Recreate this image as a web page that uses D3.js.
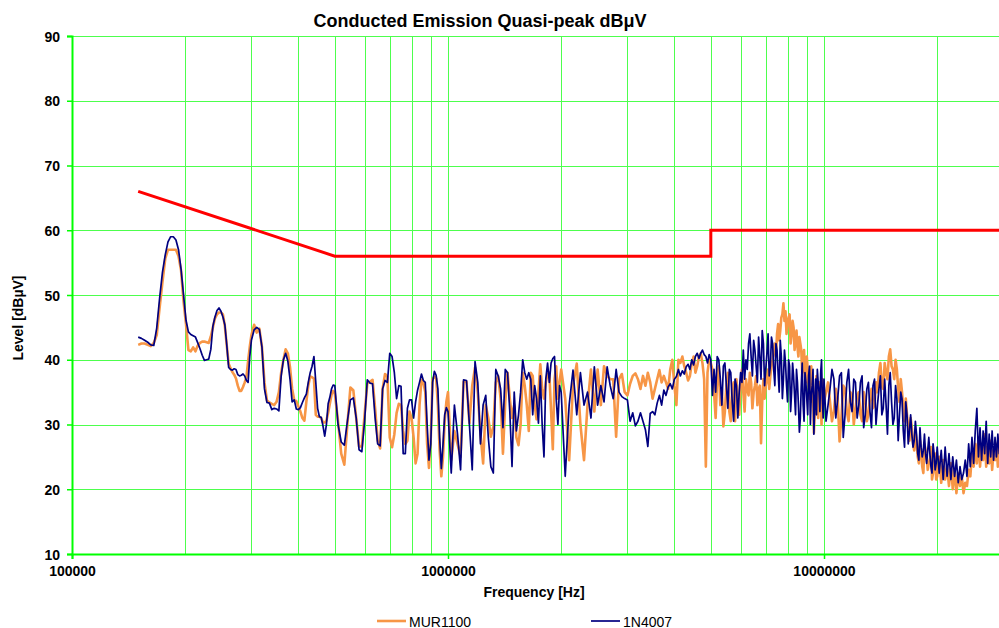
<!DOCTYPE html>
<html><head><meta charset="utf-8">
<script src="https://cdn.jsdelivr.net/npm/d3@7"></script>
<style>
body{margin:0;background:#fff;}
svg text{font-family:Arial,"Liberation Sans",sans-serif;fill:#000;}
</style>
</head><body>
<svg id="chart" width="999" height="628"></svg>
<script>
// ---- DATA (frequencies in MHz, levels in dBuV) ----
const freqBand1 = [0.150,0.153,0.156,0.159,0.162,0.165,0.168,0.171,0.174,0.177,0.180,0.183,0.186,0.189,0.192,0.195,0.198,0.201,0.204,0.207,0.210,0.213,0.216,0.219,0.222,0.225,0.228,0.231,0.234,0.237,0.240,0.243,0.246,0.249,0.252,0.255,0.258,0.261,0.264,0.267,0.270,0.273,0.276,0.279,0.282,0.285,0.288,0.291,0.294,0.297,0.300];
const murBand1 = [42.3,42.5,42.5,42.3,42.1,42.6,43.8,48.0,52.0,55.6,
57.0,57.0,57.0,57.0,56.0,53.8,49.0,45.5,41.5,41.3,
41.9,41.3,42.2,42.6,42.8,42.8,42.7,42.6,43.6,45.0,
46.4,47.0,47.3,47.3,47.0,45.2,42.2,39.4,38.7,38.1,
37.7,37.1,36.0,35.2,35.2,35.8,36.5,37.3,39.8,42.0,
43.8];
const n4007Band1 = [43.5,43.3,43.0,42.7,42.3,42.2,44.9,49.5,53.5,56.2,
58.2,59.0,59.0,58.5,57.0,54.0,50.0,46.1,44.3,43.9,
43.7,43.5,42.6,41.7,40.7,39.9,40.0,40.1,41.6,45.2,
46.6,47.6,48.0,47.5,46.6,45.4,42.3,38.8,38.5,38.4,
38.6,38.5,37.7,37.5,37.6,37.8,37.5,36.8,36.5,40.5,
43.0];

const freqBand2 = [0.305,0.310,0.315,0.320,0.325,0.330,0.335,0.340,0.345,0.350,0.355,0.360,0.365,0.370,0.375,0.380,0.385,0.390,0.395,0.400,0.405,0.410,0.415,0.420,0.425,0.430,0.435,0.440,0.445,0.450,0.455,0.460,0.465,0.470,0.475,0.480,0.485,0.490,0.495,0.500];
const murBand2 = [45.4,44.2,44.8,42.0,36.5,33.7,33.4,33.2,33.0,33.5,
35.0,38.0,40.0,41.6,41.0,38.9,35.5,33.8,33.6,32.8,
32.0,31.0,30.6,33.5,36.0,37.4,37.3,37.1,31.5,31.2,
31.2,31.0,30.3,30.3,30.6,31.8,33.2,34.6,35.2,34.8];
const n4007Band2 = [44.6,45.0,44.7,42.0,35.5,33.4,33.3,32.3,32.5,32.4,
32.1,37.5,40.0,41.0,39.8,37.0,33.5,33.8,32.4,32.3,
32.6,33.4,34.1,34.7,36.5,38.0,39.0,40.5,36.5,32.5,
31.2,31.1,29.8,28.2,30.0,33.2,34.2,35.5,36.1,36.0];

const freqBand3 = [0.51,0.52,0.53,0.54,0.55,0.56,0.57,0.58,0.59,0.60,0.61,0.62,0.63,0.64,0.65,0.66,0.67,0.68,0.69,0.70,0.71,0.72,0.73,0.74,0.75,0.76,0.77,0.78,0.79,0.80,0.81,0.82,0.83,0.84,0.85,0.86,0.87,0.88,0.89,0.90,0.91,0.92,0.93,0.94,0.95,0.96,0.97,0.98,0.99,1.00];
const murBand3 = [30.5,25.5,23.8,30.0,35.7,35.3,31.0,26.6,26.6,31.5,
36.3,36.6,36.9,32.5,27.5,26.3,35.5,37.8,37.4,28.0,
26.5,28.5,31.8,33.2,33.0,29.0,27.0,27.5,32.0,31.0,
28.0,24.0,25.5,33.0,36.9,36.5,35.0,27.0,23.3,28.0,
37.0,37.4,37.1,33.0,26.0,22.0,25.0,30.5,33.5,35.0];
const n4007Band3 = [30.0,27.3,26.8,30.5,33.8,34.1,31.0,26.1,25.8,30.5,
36.9,36.4,36.3,31.0,27.0,26.7,35.5,36.8,36.5,41.0,
40.5,38.0,34.0,36.0,35.9,25.5,25.5,32.5,33.8,33.8,
31.0,33.5,35.3,36.5,37.8,36.8,36.5,30.0,24.5,27.0,
36.5,38.2,37.6,35.5,28.0,23.2,27.0,31.5,32.6,32.0];

const freqBand4 = [1.02,1.04,1.06,1.08,1.10,1.12,1.14,1.16,1.18,1.20,1.22,1.24,1.26,1.28,1.30,1.32,1.34,1.36,1.38,1.40,1.42,1.44,1.46,1.48,1.50,1.52,1.54,1.56,1.58,1.60,1.62,1.64,1.66,1.68,1.70,1.72,1.74,1.76,1.78,1.80,1.82,1.84,1.86,1.88,1.90,1.92,1.94,1.96,1.98,2.00];
const murBand4 = [24.5,29.0,27.0,25.0,36.6,36.6,30.2,36.0,38.8,35.0,
28.5,24.0,33.0,31.0,28.1,29.7,36.5,37.5,34.0,25.5,
33.5,38.0,34.0,31.0,33.0,28.0,26.8,30.0,38.0,36.0,
33.0,29.0,38.0,37.5,33.0,30.8,35.0,39.3,35.5,34.0,
36.5,37.8,38.0,32.0,26.2,37.0,39.0,34.0,36.5,38.5];
const n4007Band4 = [22.5,33.0,28.5,23.0,36.9,36.8,30.0,23.0,39.7,36.5,
27.0,33.0,34.5,28.0,23.5,22.5,38.5,37.5,35.5,29.5,
38.5,38.0,32.0,23.5,35.0,29.0,31.5,35.0,40.0,38.0,
37.0,38.0,37.0,31.5,36.0,34.0,30.2,37.5,30.0,25.0,
37.0,39.5,36.5,39.5,40.2,40.5,34.0,30.0,36.0,35.0];

const freqBand5 = [2.05,2.10,2.15,2.20,2.25,2.30,2.35,2.40,2.45,2.50,2.55,2.60,2.65,2.70,2.75,2.80,2.85,2.90,2.95,3.00,3.05,3.10,3.15,3.20,3.25,3.30,3.35,3.40,3.45,3.50,3.55,3.60,3.65,3.70,3.75,3.80,3.85,3.90,3.95,4.00,4.05,4.10,4.15,4.20,4.25,4.30,4.35,4.40,4.45,4.50,4.55,4.60,4.65,4.70,4.75,4.80,4.85,4.90,4.95,5.00];
const murBand5 = [34.0,24.5,36.0,39.4,30.0,24.5,33.0,38.5,32.0,38.5,
33.0,39.0,37.5,37.0,37.0,28.1,37.0,37.8,35.0,34.5,
36.3,37.5,37.9,37.0,35.5,37.5,36.0,38.0,36.5,34.0,
35.5,37.0,38.4,36.5,37.5,36.5,35.5,38.5,40.0,36.0,
33.0,40.0,39.5,40.5,39.0,38.0,36.8,37.5,39.5,40.5,
38.0,39.0,40.5,41.0,39.5,37.0,23.5,38.0,40.0,39.5];
const n4007Band5 = [22.0,33.0,38.4,31.5,38.0,33.0,35.0,31.0,38.9,33.0,
36.0,33.5,38.9,36.0,34.0,38.5,35.0,34.3,34.0,33.8,
30.5,31.8,29.8,30.5,31.8,30.5,29.2,26.6,31.7,32.0,
31.5,33.3,34.5,33.0,35.3,34.5,35.8,36.3,35.5,37.0,
37.4,38.5,37.5,38.3,37.8,38.9,39.3,38.5,40.0,39.2,
40.5,41.0,40.2,41.0,41.5,40.8,40.5,39.5,40.8,40.0];

const freqBand6 = [5.1,5.2,5.3,5.4,5.5,5.6,5.7,5.8,5.9,6.0,6.1,6.2,6.3,6.4,6.5,6.6,6.7,6.8,6.9,7.0,7.1,7.2,7.3,7.4,7.5,7.6,7.7,7.8,7.9,8.0,8.1,8.2,8.3,8.4,8.5,8.6,8.7,8.8,8.9,9.0,9.1,9.2,9.3,9.4,9.5,9.6,9.7,9.8,9.9,10.0];
const murBand6 = [35.0,37.5,33.0,29.7,36.0,32.0,35.5,30.5,34.0,36.0,
35.0,37.0,34.5,36.5,35.0,37.5,35.5,27.1,37.0,36.0,
38.5,37.5,40.0,42.5,44.0,43.0,46.5,48.7,47.5,45.5,
47.0,44.0,45.0,43.0,42.0,43.5,41.5,40.0,37.5,40.5,
36.0,38.0,33.5,28.7,35.0,33.0,36.5,34.0,37.0,33.5];
const n4007Band6 = [38.5,40.5,37.0,39.0,36.0,38.5,33.5,37.0,31.0,38.0,
41.5,40.0,42.5,40.5,43.0,39.0,43.5,37.0,42.5,38.5,
44.0,39.0,42.5,36.0,41.5,35.0,40.5,37.0,39.5,33.5,
39.0,35.0,37.5,31.5,36.5,28.8,36.0,33.0,38.0,34.0,
37.5,30.0,36.0,28.5,37.0,38.5,35.0,38.0,34.0,37.0];

const freqBand6b = [5.05,5.15,5.25,5.35,5.45,5.55,5.65,5.75,5.85,5.95,6.05,6.15,6.25,6.35,6.45,6.55,6.65,6.75,6.85,6.95,7.05,7.15,7.25,7.35,7.45,7.55,7.65,7.75,7.85,7.95,8.05,8.15,8.25,8.35,8.45,8.55,8.65,8.75,8.85,8.95,9.05,9.15,9.25,9.35,9.45,9.55,9.65,9.75,9.85,9.95];
const murBand6b = [38.5,31.0,39.0,35.5,32.0,38.0,30.5,36.5,37.0,31.5,
38.5,32.0,35.5,38.0,32.5,36.0,33.0,36.0,33.5,34.0,
37.0,35.5,39.0,41.5,40.5,45.5,44.5,47.0,46.0,44.0,
46.5,42.5,46.0,41.5,44.5,40.5,42.5,38.0,41.5,36.5,
38.5,34.0,39.0,35.0,32.0,37.5,31.0,35.5,30.0,36.0];
const n4007Band6b = [34.5,35.0,40.0,33.0,39.5,32.5,38.0,30.5,36.0,35.0,
36.5,37.0,38.5,44.0,37.5,41.5,36.5,40.5,44.5,36.0,
41.0,37.5,43.5,38.5,42.5,38.0,43.0,34.0,41.5,36.0,
40.0,32.0,39.5,34.5,38.5,33.0,31.0,39.5,30.5,36.5,
31.5,39.0,34.5,38.5,33.0,31.5,36.5,32.0,40.0,31.0];

const freqBand7 = [10.25,10.5,10.75,11.0,11.25,11.5,11.75,12.0,12.25,12.5,12.75,13.0,13.25,13.5,13.75,14.0,14.25,14.5,14.75,15.0,15.25,15.5,15.75,16.0,16.25,16.5,16.75,17.0,17.25,17.5,17.75,18.0,18.25,18.5,18.75,19.0,19.25,19.5,19.75,20.0,20.25,20.5,20.75,21.0,21.25,21.5,21.75,22.0,22.25,22.5,22.75,23.0,23.25,23.5,23.75,24.0,24.25,24.5,24.75,25.0,25.25,25.5,25.75,26.0,26.25,26.5,26.75,27.0,27.25,27.5,27.75,28.0,28.25,28.5,28.75,29.0,29.25,29.5,29.75,30.0];
const murBand7 = [36.5,30.5,35.5,27.4,36.0,32.0,35.0,30.0,34.5,31.5,
35.0,30.5,34.0,32.5,36.5,38.0,36.0,39.5,37.0,41.6,
38.5,40.0,35.5,37.0,32.5,34.0,29.5,31.0,27.0,29.0,
25.0,27.5,23.5,27.0,25.0,24.0,26.5,22.5,25.5,22.0,
25.0,21.0,24.5,21.5,23.5,20.5,24.0,20.0,23.0,19.4,
22.5,20.5,22.0,19.4,21.0,20.5,23.0,22.0,25.5,23.5,
27.0,24.0,28.0,23.5,27.0,24.5,28.5,23.5,26.5,24.0,
27.5,23.0,26.0,24.5,27.0,23.5,26.0,24.0,26.5,25.0];
const n4007Band7 = [33.0,38.5,31.0,37.5,28.0,36.5,33.5,37.0,31.0,36.5,
29.5,35.5,32.0,36.0,30.0,35.5,31.5,37.0,28.5,38.0,
30.0,36.0,27.5,35.0,29.0,33.5,27.0,31.5,26.5,30.5,
25.5,29.5,25.0,28.5,24.0,28.0,23.5,27.0,23.0,26.5,
22.5,26.0,21.5,26.5,22.0,25.5,21.5,25.0,22.0,24.5,
21.0,23.5,21.5,22.5,24.5,22.0,27.0,23.5,28.0,24.0,
29.0,32.5,25.0,29.5,24.5,29.0,25.5,30.5,24.0,28.5,
25.0,29.0,24.5,28.0,25.0,28.5,25.5,27.5,25.0,27.0];

const freqBand7b = [10.125,10.375,10.625,10.875,11.125,11.375,11.625,11.875,12.125,12.375,12.625,12.875,13.125,13.375,13.625,13.875,14.125,14.375,14.625,14.875,15.125,15.375,15.625,15.875,16.125,16.375,16.625,16.875,17.125,17.375,17.625,17.875,18.125,18.375,18.625,18.875,19.125,19.375,19.625,19.875];
const murBand7b = [35.0,33.5,32.0,34.0,31.0,35.5,30.5,34.5,32.5,35.0,
30.5,34.0,31.5,35.5,33.0,35.0,39.5,35.5,38.0,40.5,
39.0,37.0,38.5,33.5,35.0,30.5,31.5,27.5,29.5,26.0,
27.5,24.0,26.0,22.5,26.0,23.0,24.5,21.5,24.0,21.5];
const n4007Band7b = [30.5,35.5,37.0,34.0,38.0,31.5,38.5,32.0,36.5,33.0,
37.5,31.5,36.5,29.5,37.0,33.0,37.5,32.5,33.0,36.0,
33.5,31.0,34.0,31.5,34.0,26.5,31.5,29.0,28.5,27.5,
28.5,24.5,26.5,26.0,25.5,26.0,25.5,22.5,25.5,24.0];

// limit line (Hz, dBuV)
const limitFreq = [150000, 500000, 5000000, 5000000, 30000000];
const limitLevel = [66, 56, 56, 60, 60];

const seriesNames = ["MUR1100", "1N4007"];
const seriesColors = ["#F79646", "#000080"];
const yTickValues = [10, 20, 30, 40, 50, 60, 70, 80, 90];
const xTickValues = [100000, 1000000, 10000000];
const xTickLabels = ["100000", "1000000", "10000000"];
const titleText = "Conducted Emission Quasi-peak dB\u03BCV";
const xTitle = "Frequency [Hz]";
const yTitle = "Level [dB\u00B5V]";

// ---- assemble (pair each frequency with its level, then order by frequency) ----
const freqBands = [freqBand1, freqBand2, freqBand3, freqBand4, freqBand5, freqBand6, freqBand6b, freqBand7, freqBand7b];
const murBands = [murBand1, murBand2, murBand3, murBand4, murBand5, murBand6, murBand6b, murBand7, murBand7b];
const n4007Bands = [n4007Band1, n4007Band2, n4007Band3, n4007Band4, n4007Band5, n4007Band6, n4007Band6b, n4007Band7, n4007Band7b];
function buildSeries(levelBands) {
  const pts = [];
  freqBands.forEach((fb, b) => {
    const lv = levelBands[b];
    const m = Math.min(fb.length, lv.length);
    for (let i = 0; i < m; i++) pts.push({f: fb[i] * 1e6, v: lv[i]});
  });
  return pts.sort((a, b) => a.f - b.f);
}
const murData = buildSeries(murBands);
const n4007Data = buildSeries(n4007Bands);
const limitData = limitFreq.map((f, i) => ({f, v: limitLevel[i]}));

const svg = d3.select("#chart");
const plotLeft = 72, plotRight = 1003.4, plotTop = 36, plotBottom = 554;
const x = d3.scaleLog().domain([1e5, 3e7]).range([plotLeft, plotRight]);
const y = d3.scaleLinear().domain([10, 90]).range([plotBottom, plotTop]);

const gridColor = "#4dff4d";
const axisColor = "#00ff00";

// vertical gridlines at 1..9 x decade
const vGrid = [];
[1e5, 1e6, 1e7].forEach(d => { for (let k = 1; k <= 9; k++) { const f = d * k; if (f > 1e5 && f <= 3e7) vGrid.push(f); } });
svg.append("g").selectAll("line").data(vGrid).join("line")
  .attr("x1", d => Math.round(x(d)) + 0.5).attr("x2", d => Math.round(x(d)) + 0.5)
  .attr("y1", plotTop).attr("y2", plotBottom)
  .attr("stroke", gridColor).attr("stroke-width", 1);

// horizontal gridlines
svg.append("g").selectAll("line").data(yTickValues.filter(v => v > 10)).join("line")
  .attr("x1", plotLeft).attr("x2", 999)
  .attr("y1", d => Math.round(y(d)) + 0.5).attr("y2", d => Math.round(y(d)) + 0.5)
  .attr("stroke", gridColor).attr("stroke-width", 1);

// axes
const yAxis = d3.axisLeft(y).tickValues(yTickValues).tickSize(5).tickFormat(d3.format("d"));
const gy = svg.append("g").attr("transform", `translate(${plotLeft},0)`).call(yAxis);
gy.select(".domain").attr("stroke", axisColor).attr("stroke-width", 2);
gy.selectAll(".tick line").attr("stroke", axisColor).attr("stroke-width", 1.5);
gy.selectAll(".tick text").attr("x", -12).attr("dy", "0.36em")
  .style("font-size", "14px").style("font-weight", "bold").style("font-family", "Arial, 'Liberation Sans', sans-serif");

const xAxis = d3.axisBottom(x).tickValues(xTickValues).tickSize(5).tickFormat((d, i) => xTickLabels[i]);
const gx = svg.append("g").attr("transform", `translate(0,${plotBottom})`).call(xAxis);
gx.select(".domain").attr("stroke", axisColor).attr("stroke-width", 2);
gx.selectAll(".tick line").attr("stroke", axisColor).attr("stroke-width", 1.5);
gx.selectAll(".tick text").attr("y", 12).attr("dy", "0.71em")
  .style("font-size", "14px").style("font-weight", "bold").style("font-family", "Arial, 'Liberation Sans', sans-serif");

// series
const line = d3.line().x(d => x(d.f)).y(d => y(d.v));
svg.append("path").datum(murData).attr("d", line)
  .attr("fill", "none").attr("stroke", seriesColors[0]).attr("stroke-width", 2.6).attr("stroke-linejoin", "round");
svg.append("path").datum(n4007Data).attr("d", line)
  .attr("fill", "none").attr("stroke", seriesColors[1]).attr("stroke-width", 1.7).attr("stroke-linejoin", "round");

// limit
svg.append("path").datum(limitData).attr("d", line)
  .attr("fill", "none").attr("stroke", "#ff0000").attr("stroke-width", 3);

// titles
svg.append("text").attr("x", 480).attr("y", 27).attr("text-anchor", "middle")
  .style("font-size", "18px").style("font-weight", "bold").text(titleText);
svg.append("text").attr("x", 534).attr("y", 597).attr("text-anchor", "middle")
  .style("font-size", "14px").style("font-weight", "bold").text(xTitle);
svg.append("text").attr("transform", "translate(23,318) rotate(-90)").attr("text-anchor", "middle")
  .style("font-size", "14px").style("font-weight", "bold").text(yTitle);

// legend
const legendX = [377, 591];
seriesNames.forEach((name, i) => {
  const g = svg.append("g").attr("transform", `translate(${legendX[i]},621)`);
  g.append("line").attr("x1", 0).attr("x2", 29).attr("y1", 0).attr("y2", 0)
    .attr("stroke", seriesColors[i]).attr("stroke-width", i === 0 ? 2.6 : 1.7);
  g.append("text").attr("x", 32).attr("y", 5.5).style("font-size", "14px").text(name);
});
</script>
</body></html>
